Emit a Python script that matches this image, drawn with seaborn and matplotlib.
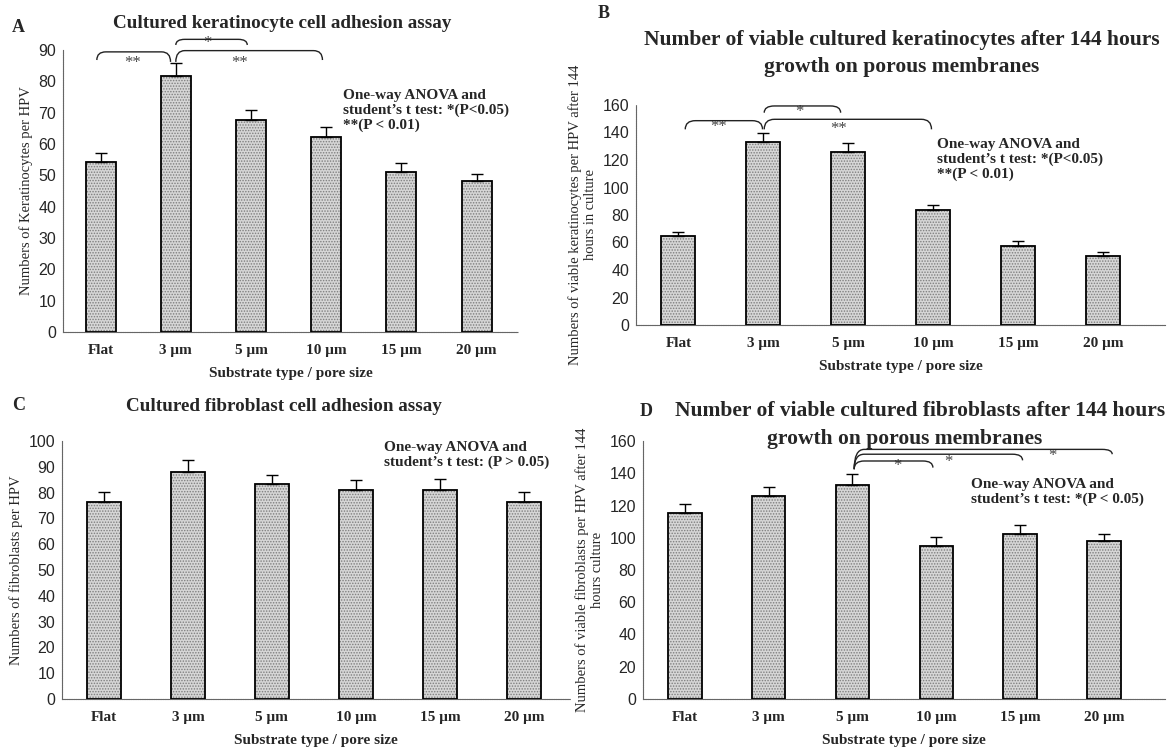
import numpy as np
import matplotlib.pyplot as plt
import seaborn as sns
from matplotlib.path import Path
from matplotlib.patches import PathPatch

# substrate categories (x axis of every panel)
substrates = ["Flat", "3 μm", "5 μm", "10 μm", "15 μm", "20 μm"]

# A - keratinocyte adhesion
kera_adhesion = [54.3, 81.8, 67.6, 62.2, 51.1, 48.2]
kera_adhesion_err = [2.7, 3.9, 3.2, 3.2, 2.7, 2.3]

# B - viable keratinocytes after 144 h
kera_viable = [65.0, 133.1, 126.1, 83.4, 57.7, 50.4]
kera_viable_err = [2.9, 6.3, 6.3, 4.1, 3.1, 2.4]

# C - fibroblast adhesion
fibro_adhesion = [76.5, 87.8, 83.2, 80.9, 81.1, 76.5]
fibro_adhesion_err = [3.8, 4.7, 3.7, 3.8, 4.2, 3.8]

# D - viable fibroblasts after 144 h
fibro_viable = [115.3, 125.6, 132.6, 95.1, 102.1, 98.0]
fibro_viable_err = [5.9, 5.9, 6.8, 5.1, 5.9, 4.3]

# significance brackets: (x_left, x_right, y_left, y_top, y_right, stars, star_x, star_y)
brackets_a = [(-0.05, 0.93, 86.8, 89.4, 86.2, "**", 0.43, 85.7),
              (1.0, 1.95, 91.6, 93.4, 91.6, "*", 1.42, 92.1),
              (1.0, 2.95, 86.2, 89.8, 86.8, "**", 1.85, 85.7)]
brackets_b = [(0.08, 0.99, 142.3, 148.6, 142.3, "**", 0.47, 143.8),
              (1.01, 1.91, 154.4, 159.3, 154.4, "*", 1.42, 155.2),
              (1.01, 2.98, 142.3, 149.6, 142.3, "**", 1.88, 142.8)]
brackets_d = [(2.02, 2.96, 142.5, 147.6, 143.5, "*", 2.54, 144.3),
              (2.02, 4.03, 142.5, 151.8, 148.0, "*", 3.14, 147.2),
              (2.02, 5.10, 142.5, 154.8, 151.8, "*", 4.38, 150.7)]

sns.set_theme(style="white")
plt.rcParams['font.family'] = ['Liberation Serif', 'DejaVu Serif']
plt.rcParams['hatch.linewidth'] = 0.7

SERIF = ['Liberation Serif', 'DejaVu Serif']
SANS = ['Liberation Sans', 'DejaVu Sans']

W, H = 1168, 755
fig = plt.figure(figsize=(W / 100, H / 100), dpi=100)


def px_axes(x0, y_top, x1, y_bot):
    return fig.add_axes([x0 / W, 1 - y_bot / H, (x1 - x0) / W, (y_bot - y_top) / H])


def draw_panel(ax, values, errs, ymax, ystep, ylabel, xmax=5.55):
    sns.barplot(x=substrates, y=values, ax=ax, color="#d6d6d6", width=0.4,
                edgecolor="#7e7e7e", linewidth=0, hatch="......", zorder=2)
    sns.barplot(x=substrates, y=values, ax=ax, color="black", width=0.4,
                fill=False, linewidth=1.3, zorder=3)
    ax.errorbar(range(len(values)), values, yerr=[np.zeros(len(values)), errs],
                fmt="none", ecolor="black", elinewidth=1.0, capsize=4, capthick=1.0, zorder=4)
    ax.set_xlim(-0.5, xmax)
    ax.set_ylim(0, ymax)
    ax.set_yticks(np.arange(0, ymax + 1, ystep))
    for lab in ax.get_yticklabels():
        lab.set_family(SANS)
        lab.set_fontsize(11.5)
    for lab in ax.get_xticklabels():
        lab.set_family(SERIF)
        lab.set_fontweight("bold")
        lab.set_fontsize(11)
        lab.set_va("baseline")
    ax.tick_params(axis="x", which="major", length=0, pad=16)
    ax.set_xticks(np.arange(-0.5, 5.6, 1.0), minor=True)
    ax.tick_params(axis="x", which="minor", length=3, width=0.8, color="#555555", direction="out")
    ax.tick_params(axis="y", length=3, width=0.8, color="#555555", direction="out", pad=2)
    sns.despine(ax=ax)
    for s in ("left", "bottom"):
        ax.spines[s].set_color("#666666")
        ax.spines[s].set_linewidth(0.8)
        ax.spines[s].set_linestyle((0, (1, 0.6)))
    ax.set_xlabel("Substrate type / pore size", fontsize=11, fontweight="bold", labelpad=7)
    ax.set_ylabel(ylabel, fontsize=10.5, labelpad=4)


def draw_brackets(ax, brackets, dx=0.12):
    for x0, x1, yl, yt, yr, stars, sx, sy in brackets:
        verts = [(x0, yl), (x0, yt), (x0 + dx, yt), (x1 - dx, yt), (x1, yt), (x1, yr)]
        codes = [Path.MOVETO, Path.CURVE3, Path.CURVE3, Path.LINETO, Path.CURVE3, Path.CURVE3]
        ax.add_patch(PathPatch(Path(verts, codes), fill=False, edgecolor="#222222",
                               linewidth=1.0, clip_on=False, zorder=5))
        ax.text(sx, sy, stars, ha="center", va="center", fontsize=12, color="#444444",
                family=SERIF, clip_on=False)


note_kw = dict(ha="left", va="top", fontsize=11, fontweight="bold", linespacing=1.15)

# Panel A
ax_a = px_axes(63, 50, 518, 332)
draw_panel(ax_a, kera_adhesion, kera_adhesion_err, 90, 10, "Numbers of Keratinocytes per HPV")
draw_brackets(ax_a, brackets_a)
ax_a.text(3.22, 77.5, "One-way ANOVA and\nstudent’s t test: *(P<0.05)\n**(P < 0.01)", **note_kw)

# Panel B
ax_b = px_axes(636, 105, 1165, 325)
draw_panel(ax_b, kera_viable, kera_viable_err, 160, 20,
           "Numbers of viable keratinocytes per HPV after 144\nhours in culture", xmax=5.73)
draw_brackets(ax_b, brackets_b)
ax_b.text(3.05, 136, "One-way ANOVA and\nstudent’s t test: *(P<0.05)\n**(P < 0.01)", **note_kw)

# Panel C
ax_c = px_axes(62, 441, 570, 699)
draw_panel(ax_c, fibro_adhesion, fibro_adhesion_err, 100, 10, "Numbers of fibroblasts per HPV")
ax_c.text(3.34, 100, "One-way ANOVA and\nstudent’s t test: (P > 0.05)", **note_kw)

# Panel D
ax_d = px_axes(643, 441, 1165, 699)
draw_panel(ax_d, fibro_viable, fibro_viable_err, 160, 20,
           "Numbers of viable fibroblasts per HPV after 144\nhours culture", xmax=5.73)
draw_brackets(ax_d, brackets_d)
ax_d.text(3.41, 137, "One-way ANOVA and\nstudent’s t test: *(P < 0.05)", **note_kw)

# titles and panel letters
big_title = dict(ha="center", va="center", fontsize=15.5, fontweight="bold")
small_title = dict(ha="center", va="center", fontsize=13.8, fontweight="bold")
fig.text(282 / W, 1 - 24 / H, "Cultured keratinocyte cell adhesion assay", **small_title)
fig.text(902 / W, 1 - 40 / H, "Number of viable cultured keratinocytes after 144 hours", **big_title)
fig.text(902 / W, 1 - 67 / H, "growth on porous membranes", **big_title)
fig.text(284 / W, 1 - 407 / H, "Cultured fibroblast cell adhesion assay", **small_title)
fig.text(920 / W, 1 - 411 / H, "Number of viable cultured fibroblasts after 144 hours", **big_title)
fig.text(905 / W, 1 - 439 / H, "growth on porous membranes", **big_title)

letter_kw = dict(ha="left", va="center", fontsize=13, fontweight="bold")
fig.text(12 / W, 1 - 27 / H, "A", **letter_kw)
fig.text(598 / W, 1 - 13 / H, "B", **letter_kw)
fig.text(12 / W, 1 - 405 / H, "C", **letter_kw)
fig.text(640 / W, 1 - 411 / H, "D", **letter_kw)

fig.savefig("out.png", dpi=100)
